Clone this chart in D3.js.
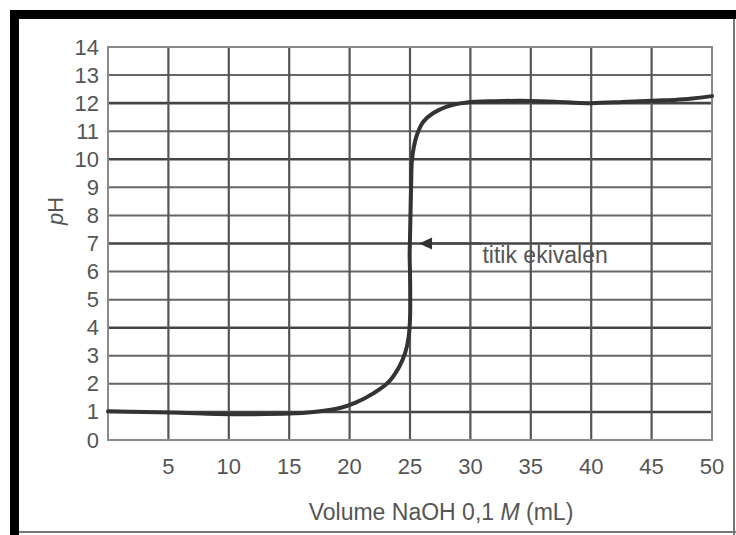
<!DOCTYPE html>
<html>
<head>
<meta charset="utf-8">
<script src="https://cdn.jsdelivr.net/npm/d3@7"></script>
<style>
    body { margin: 0; background: #fff; }
    svg { display: block; }
</style>
</head>
<body>
<svg width="736" height="535"></svg>
<script>
// data
const volume = [0, 3, 6, 9, 12, 15, 17, 19.2, 20.5, 22, 23.2, 24.1, 24.6, 24.88, 25.0, 25.02, 25.0, 24.97, 25.0, 25.05, 25.1, 25.15, 25.3, 25.6, 26.1, 26.9, 28.0, 29.7, 32, 35, 38, 40, 43, 46, 48, 50];
const pH = [1.02, 1.0, 0.97, 0.93, 0.92, 0.94, 1.0, 1.14, 1.33, 1.67, 2.05, 2.6, 3.1, 3.65, 4.3, 5.1, 6.0, 6.6, 7.2, 8.2, 9.2, 9.9, 10.4, 10.9, 11.34, 11.64, 11.87, 12.02, 12.07, 12.08, 12.03, 12.0, 12.05, 12.1, 12.15, 12.25];

const xTicks = [5, 10, 15, 20, 25, 30, 35, 40, 45, 50];
const yTicks = [0, 1, 2, 3, 4, 5, 6, 7, 8, 9, 10, 11, 12, 13, 14];

// annotation (arrow to the equivalence point)
const arrowFrom = [31, 7];
const arrowTo = [25.75, 7];
const labelAt = [31, 6.3];
const labelText = "titik ekivalen";

const svg = d3.select("svg");
const font = "'Liberation Sans', Arial, sans-serif";
const textColor = "#555";

// outer frame of the scan
svg.append("path")
    .attr("d", "M14.5,535 V14.5 H736")
    .attr("fill", "none")
    .attr("stroke", "#000")
    .attr("stroke-width", 9);
svg.append("line")
    .attr("x1", 734).attr("x2", 734).attr("y1", 19).attr("y2", 535)
    .attr("stroke", "#777").attr("stroke-width", 2);
svg.append("line")
    .attr("x1", 19).attr("x2", 736).attr("y1", 532).attr("y2", 532)
    .attr("stroke", "#777").attr("stroke-width", 2);

var xScale = d3.scaleLinear().domain([0, 50]).range([108, 712]),
    yScale = d3.scaleLinear().domain([0, 14]).range([440, 47]);

// grid
svg.append("g")
    .selectAll("line")
    .data(yTicks.slice(1, -1))
    .enter()
    .append("line")
    .attr("x1", xScale(0))
    .attr("x2", xScale(50))
    .attr("y1", d => yScale(d))
    .attr("y2", d => yScale(d))
    .attr("stroke", d => [1, 4, 7, 10, 12].includes(d) ? "#444" : "#666")
    .attr("stroke-width", d => [1, 4, 7, 10, 12].includes(d) ? 2.6 : 2);

svg.append("g")
    .selectAll("line")
    .data(xTicks.slice(0, -1))
    .enter()
    .append("line")
    .attr("x1", d => xScale(d))
    .attr("x2", d => xScale(d))
    .attr("y1", yScale(0))
    .attr("y2", yScale(14))
    .attr("stroke", "#555")
    .attr("stroke-width", 2.2);

svg.append("rect")
    .attr("x", xScale(0))
    .attr("y", yScale(14))
    .attr("width", xScale(50) - xScale(0))
    .attr("height", yScale(0) - yScale(14))
    .attr("fill", "none")
    .attr("stroke", "#8a8a8a")
    .attr("stroke-width", 2);

// tick labels
svg.append("g")
    .selectAll("text")
    .data(yTicks)
    .enter()
    .append("text")
    .attr("x", 99)
    .attr("y", d => yScale(d) + 7.5)
    .attr("text-anchor", "end")
    .style("font-family", font)
    .style("font-size", "22px")
    .style("fill", textColor)
    .text(d => d);

svg.append("g")
    .selectAll("text")
    .data(xTicks)
    .enter()
    .append("text")
    .attr("x", d => xScale(d))
    .attr("y", 474)
    .attr("text-anchor", "middle")
    .style("font-family", font)
    .style("font-size", "22px")
    .style("fill", textColor)
    .text(d => d);

// axis titles
var xTitle = svg.append("text")
    .attr("x", 441)
    .attr("y", 520)
    .attr("text-anchor", "middle")
    .style("font-family", font)
    .style("font-size", "23px")
    .style("fill", textColor);
xTitle.append("tspan").text("Volume NaOH 0,1 ");
xTitle.append("tspan").style("font-style", "italic").text("M");
xTitle.append("tspan").text(" (mL)");

var yTitle = svg.append("text")
    .attr("text-anchor", "middle")
    .attr("transform", "translate(63,211)rotate(-90)")
    .style("font-family", font)
    .style("font-size", "22px")
    .style("fill", textColor);
yTitle.append("tspan").style("font-style", "italic").text("p");
yTitle.append("tspan").text("H");

// the curve
const points = volume.map((v, i) => [v, pH[i]]);
const line = d3.line()
    .x(d => xScale(d[0]))
    .y(d => yScale(d[1]))
    .curve(d3.curveCatmullRom.alpha(0.5));

svg.append("path")
    .datum(points)
    .attr("d", line)
    .attr("fill", "none")
    .attr("stroke", "#333")
    .attr("stroke-width", 4)
    .attr("stroke-linecap", "round")
    .attr("stroke-linejoin", "round");

// arrow + label
svg.append("line")
    .attr("x1", xScale(arrowFrom[0]))
    .attr("y1", yScale(arrowFrom[1]))
    .attr("x2", xScale(arrowTo[0]) + 10)
    .attr("y2", yScale(arrowTo[1]))
    .attr("stroke", "#444")
    .attr("stroke-width", 2);

var tipX = xScale(arrowTo[0]), tipY = yScale(arrowTo[1]);
svg.append("path")
    .attr("d", `M${tipX},${tipY} L${tipX + 13},${tipY - 6} L${tipX + 13},${tipY + 6} Z`)
    .attr("fill", "#333");

svg.append("text")
    .attr("x", xScale(labelAt[0]))
    .attr("y", yScale(labelAt[1]))
    .style("font-family", font)
    .style("font-size", "23px")
    .style("fill", textColor)
    .text(labelText);
</script>
</body>
</html>
